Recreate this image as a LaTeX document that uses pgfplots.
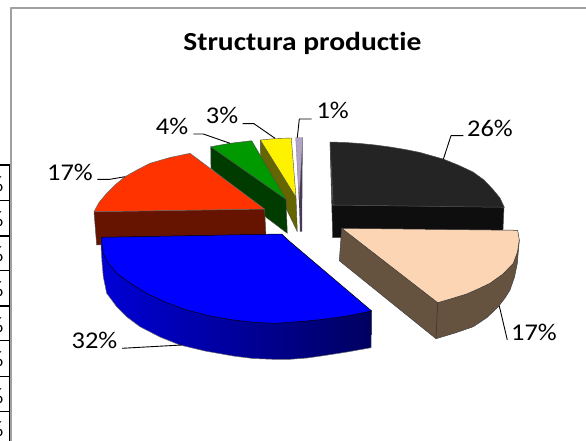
\documentclass[border=0pt]{standalone}
\usepackage{graphicx}
\usepackage{pgfplots}
\pgfplotsset{compat=1.18}
\usepackage{fontspec}
\setmainfont[Ligatures=NoCommon]{Carlito}
\definecolor{cDark}{HTML}{242424}
\definecolor{cDarkS}{HTML}{0E0E0E}
\definecolor{cPeach}{HTML}{FCD5B5}
\definecolor{cPeachS}{HTML}{65523F}
\definecolor{cRedS}{HTML}{661400}
\definecolor{cGreen}{HTML}{009900}
\definecolor{cGreenS}{HTML}{003C00}
\definecolor{cOlive}{HTML}{666600}
\definecolor{cPurple}{HTML}{B3A2C7}
\definecolor{cPurpleS}{HTML}{443A55}
\definecolor{cRed}{HTML}{FF3300}
\definecolor{cFrame}{HTML}{A0A0A0}
\tikzset{lab/.style={anchor=base,inner sep=0pt,font=\fontsize{24}{24}\selectfont},
 cut/.style={anchor=east,inner sep=0pt,font=\fontsize{22}{22}\selectfont}}
\newcommand{\wide}[1]{\scalebox{1.1}[1]{#1}}
\begin{document}
\begin{tikzpicture}
\path[use as bounding box] (0,0) rectangle (586pt,441pt);
\begin{axis}[at={(0,0)},anchor=south west,scale only axis,width=586pt,height=441pt,
 xmin=0,xmax=586,ymin=0,ymax=441,y dir=reverse,axis lines=none,clip=false,no markers,
 every axis plot/.append style={line join=round}]
% frame and table remains
\addplot[cFrame,line width=1.6pt] coordinates {(11,441)(11,8)(586,8)};
\addplot[black,line width=1.4pt] coordinates {(9.5,165)(9.5,441)};
\addplot[black,line width=1.2pt] coordinates {(0,165)(9.5,165)};
\addplot[black,line width=1.2pt] coordinates {(0,200.7)(9.5,200.7)};
\addplot[black,line width=1.2pt] coordinates {(0,236)(9.5,236)};
\addplot[black,line width=1.2pt] coordinates {(0,270.7)(9.5,270.7)};
\addplot[black,line width=1.2pt] coordinates {(0,306)(9.5,306)};
\addplot[black,line width=1.2pt] coordinates {(0,340.7)(9.5,340.7)};
\addplot[black,line width=1.2pt] coordinates {(0,376.7)(9.5,376.7)};
\addplot[black,line width=1.2pt] coordinates {(0,411.7)(9.5,411.7)};
% dark slice 26
\addplot[draw=black!70,fill=cDarkS,line width=.5pt] coordinates {(330,142)(333,205)(504,207)(502.5,240)(332.7,237.5)} --cycle;
\addplot[draw=black!70,fill=cDark,line width=.5pt] coordinates {(330,142)(345,142.5)(360,143.5)(375,145)(390,147)(405,149.5)(420,152.5)(443,159)(458,165)(473,172)(484,180)(493,189.5)(500,198)(504.3,207.3)(333.3,205)} --cycle;
% purple 1
\addplot[draw=none,fill=cPurpleS] coordinates {(296.5,140)(299,200)(300,231.7)(302,231.7)(302.7,137.7)} --cycle;
\addplot[draw=black!50,fill=cPurple,line width=.3pt] coordinates {(295.7,137.7)(302.7,137.7)(299,200)} --cycle;
% yellow 3
\addplot[draw=black!70,fill=cOlive,line width=.4pt] coordinates {(260.3,140)(296,197.3)(297.3,231.7)(260.5,155)} --cycle;
\addplot[draw=black!70,fill=yellow,line width=.4pt] coordinates {(260.3,140)(276,138.5)(291.3,138)(296,197.3)} --cycle;
% green 4
\addplot[draw=black!70,fill=cGreenS,line width=.4pt] coordinates {(210.7,146.7)(286,199.3)(287.3,233.3)(266,217.3)(211,168.3)} --cycle;
\addplot[draw=black!70,fill=cGreen,line width=.4pt] coordinates {(210.7,146.7)(230,143.3)(251.7,140.7)(286,199.3)} --cycle;
% red 17
\addplot[draw=black!70,fill=cRedS,line width=.5pt] coordinates {(94,211.7)(264.5,209)(266,236)(96.7,245)} --cycle;
\addplot[draw=black!60,fill=cRed,line width=.5pt] coordinates {(190,153.3)(170,157.5)(150,163.3)(137,170)(125,176.7)(115,185)(106.7,193.3)(99,202.5)(94,211.7)(264.5,209)} --cycle;
% blue 32
\addplot[draw=black!60,left color={rgb,255:red,0;green,0;blue,214},right color={rgb,255:red,0;green,0;blue,96},line width=.5pt] coordinates {(101,237.3)(101,246.7)(102,262)(103.3,276.7)(106.7,293.3)(116.7,306.7)(127,317)(140,326.7)(160,337)(180,345)(205,351)(233.3,356)(253,358.5)(273.3,359.3)(290,359.3)(307,358)(323.3,355.7)(347,352)(371,347.7)(371.7,311)} --cycle;
\addplot[draw=black,fill=blue,line width=.5pt] coordinates {(101,237.3)(281.7,234)(290,241.7)(371.7,311)(347,316)(323.3,319.3)(307,321)(290,322.3)(276.7,323.3)(255,322.5)(233.3,320)(210,316)(186.7,310)(166,302.5)(146.7,293.3)(130,283)(116.7,273.3)(108,263)(103.3,253.3)} --cycle;
% peach 17
\addplot[draw=black!75,fill=cPeachS,line width=.5pt] coordinates {(341.7,228.3)(339.3,260.7)(436,338.7)(455,333)(473.3,326.7)(487,317.5)(498.3,306.7)(505,298)(510,290)(514.5,277)(517.3,263.3)(519.3,240)} --cycle;
\addplot[draw=black!80,line width=.5pt] coordinates {(437.7,302.7)(436,338.7)};
\addplot[draw=black!80,fill=cPeach,line width=.5pt] coordinates {(341.7,228.3)(517.7,230.3)(519.3,240)(517.5,252)(513.3,263.3)(503,274)(490,283.3)(478,289)(466.7,294)(452,298.5)(437.7,302.7)} --cycle;
% leaders
\addplot[black,line width=.9pt] coordinates {(97.3,179.3)(110,179.3)(125,176.7)};
\addplot[black,line width=.9pt] coordinates {(122,348.3)(181.7,345)};
\addplot[black,line width=.9pt] coordinates {(193.3,134)(203.3,134)(230,143.3)};
\addplot[black,line width=.9pt] coordinates {(242.7,123.7)(254,123.7)(275,138.3)};
\addplot[black,line width=.9pt] coordinates {(311.7,119)(299.3,119)(297.3,137.7)};
\addplot[black,line width=.9pt] coordinates {(463.3,135.7)(451,135.7)(443.3,159.3)};
\addplot[black,line width=.9pt] coordinates {(499.3,306)(507.3,340)};
% text
\node[anchor=base,inner sep=0pt,font=\fontsize{26}{26}\selectfont\bfseries] at (axis cs:302.4,51) {\scalebox{1.135}[1]{Structura productie}};
\node[lab] at (axis cs:70,180) {\wide{17\%}};
\node[lab] at (axis cs:94.5,348.3) {\wide{32\%}};
\node[lab] at (axis cs:172,135) {\wide{4\%}};
\node[lab] at (axis cs:222,124) {\wide{3\%}};
\node[lab] at (axis cs:332.7,119) {\wide{1\%}};
\node[lab] at (axis cs:490,136) {\wide{26\%}};
\node[lab] at (axis cs:534,340.7) {\wide{17\%}};
% clipped percent signs of the neighbouring table
\node[cut] at (axis cs:3.5,184) {\%};
\node[cut] at (axis cs:3.5,219) {\%};
\node[cut] at (axis cs:3.5,254) {\%};
\node[cut] at (axis cs:3.5,289) {\%};
\node[cut] at (axis cs:3.5,325) {\%};
\node[cut] at (axis cs:3.5,359) {\%};
\node[cut] at (axis cs:3.5,396) {\%};
\node[cut] at (axis cs:3.5,429) {\%};
\end{axis}
\end{tikzpicture}
\end{document}
